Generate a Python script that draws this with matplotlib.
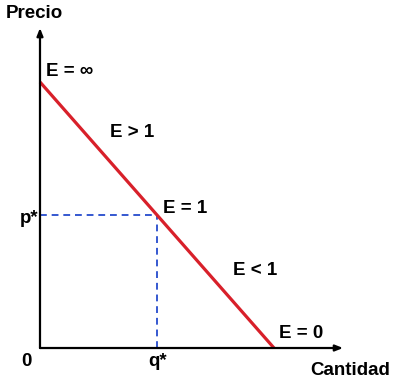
import matplotlib
matplotlib.use("Agg")
import matplotlib.pyplot as plt

plt.rcParams['font.family'] = ['Liberation Sans', 'DejaVu Sans']

# demand curve (price intercept, quantity intercept) and equilibrium
quantity = [0, 10]
price = [10, 0]
q_star = 5
p_star = 5

elasticity_labels = ["E = ∞", "E > 1", "E = 1", "E < 1", "E = 0"]
label_q = [0.26, 2.99, 5.26, 8.25, 10.21]
label_p = [10.38, 8.12, 5.26, 2.93, 0.56]

fig = plt.figure(figsize=(4.08, 3.89), dpi=100)
ax = fig.add_axes([0, 0, 1, 1])
ax.set_xlim(-1.709, 15.726)
ax.set_ylim(-1.541, 13.083)
ax.axis('off')

# axes with arrows
arrow = dict(arrowstyle='-|>,head_length=0.45,head_width=0.18', color='black', lw=1.6,
             shrinkA=0, shrinkB=0)
ax.annotate('', xy=(12.95, 0), xytext=(0, 0), arrowprops=arrow)
ax.annotate('', xy=(0, 12.03), xytext=(0, 0), arrowprops=arrow)

# dashed guides to equilibrium
blue = '#3558d0'
ax.plot([0, q_star], [p_star, p_star], ls=(0, (3.5, 2.5)), color=blue, lw=1.4)
ax.plot([q_star, q_star], [0, p_star], ls=(0, (3.5, 2.5)), color=blue, lw=1.4)

# demand line
ax.plot(quantity, price, color='#d8202a', lw=2.3, solid_capstyle='butt')

fs = 13.5
for txt, q, p in zip(elasticity_labels, label_q, label_p):
    ax.text(q, p, txt, fontsize=fs, fontweight='bold', ha='left', va='center')

ax.text(-0.26, 12.56, "Precio", fontsize=fs, fontweight='bold', ha='center', va='center')
ax.text(13.25, -0.86, "Cantidad", fontsize=fs, fontweight='bold', ha='center', va='center')
ax.text(-0.56, -0.49, "0", fontsize=fs, fontweight='bold', ha='center', va='center')
ax.text(-0.45, 4.85, "p*", fontsize=fs, fontweight='bold', ha='center', va='center')
ax.text(q_star + 0.04, -0.49, "q*", fontsize=fs, fontweight='bold', ha='center', va='center')

fig.savefig('out.png', dpi=100)
